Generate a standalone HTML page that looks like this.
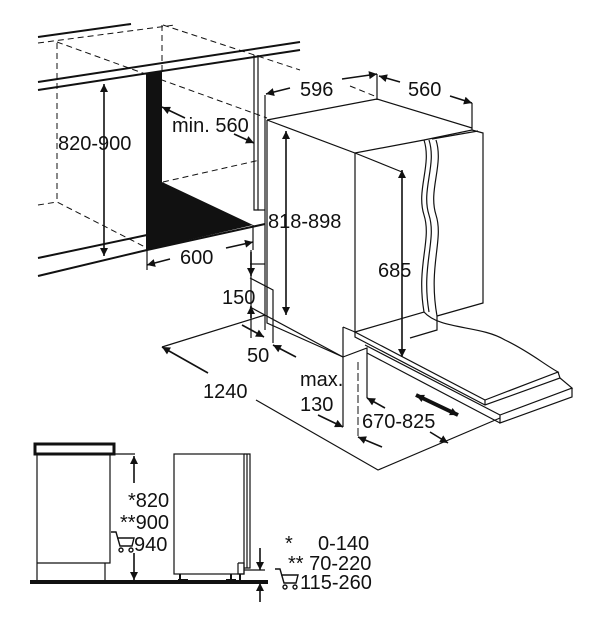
<!DOCTYPE html>
<html><head><meta charset="utf-8"><style>
html,body{margin:0;padding:0;background:#fff;}
svg{display:block;}
text{font-family:"Liberation Sans",Arial,sans-serif;font-size:20px;fill:#111;}
</style></head><body>
<svg width="605" height="632" viewBox="0 0 605 632" xmlns="http://www.w3.org/2000/svg">
<defs>
<marker id="a" viewBox="0 0 10 10" refX="10" refY="5" markerWidth="12" markerHeight="8" orient="auto-start-reverse" markerUnits="userSpaceOnUse"><path d="M0,0 L10,5 L0,10 z" fill="#111"/></marker>
</defs>
<g stroke="#111" fill="none" stroke-width="1.2">
<g stroke-dasharray="6,4" stroke-width="1">
<path d="M38,43 L175,25"/>
<path d="M57,43 L57,203"/>
<path d="M162,25 L162,70"/>
<path d="M57,42 L267,118"/>
<path d="M163,25 L300,70"/>
<path d="M38,205 L57,202 L147,248"/>
<path d="M163,182 L260,160"/>
</g>
<path d="M38,37 L131,24" stroke-width="2"/>
<path d="M38,82 L300,42" stroke-width="2"/>
<path d="M38,90 L300,50" stroke-width="2"/>
<path d="M38,258 L147,235" stroke-width="2"/>
<path d="M38,276 L147,250 L265,224" stroke-width="2"/>
<polygon points="146,73 162,71 162,182 253,225 146,250" fill="#111" stroke="none"/>
<path d="M254,55 L254,210 L258,210 L258,55"/>
<path d="M258,210 L265,210"/>
<path d="M104,84 L104,256" marker-start="url(#a)" marker-end="url(#a)" stroke-width="1.6"/>
<path d="M185,118 L162,107" marker-end="url(#a)" stroke-width="1.6"/>
<path d="M234,134 L254,143" marker-end="url(#a)" stroke-width="1.6"/>
<path d="M147,250 L147,270 M253,225 L253,250"/>
<path d="M170,259 L147,265" marker-end="url(#a)" stroke-width="1.6"/>
<path d="M226,248 L253,242" marker-end="url(#a)" stroke-width="1.6"/>
<path d="M265,95 L265,330"/>
<path d="M286,131 L286,315" marker-start="url(#a)" marker-end="url(#a)" stroke-width="1.6"/>
<path d="M250,264 L265,264"/>
<path d="M290,88 L266,94" marker-end="url(#a)" stroke-width="1.6"/>
<path d="M342,79 L377,74" marker-end="url(#a)" stroke-width="1.6"/>
<path d="M377,74 L377,100 M472,103 L472,130"/>
<path d="M400,82 L379,76" marker-end="url(#a)" stroke-width="1.6"/>
<path d="M450,96 L472,103" marker-end="url(#a)" stroke-width="1.6"/>
<path d="M350,86 L377,97" stroke-dasharray="6,4" stroke-width="1"/>
<path d="M267,120 L377,99 L472,128 M267,120 L355,153 L424,140 M267,120 L267,323 L343,357"/>
<path d="M355,153 L355,332"/>
<path d="M424,140 L472,130 L483,133 L483,303 L437,316"/>
<path d="M432,139 L478,131"/>
<path d="M424,140 C432,165 416,190 424,215 C432,240 416,265 424,312 M429,140 C437,165 421,190 429,215 C437,240 421,265 429,312 M436,140 C444,165 428,190 436,215 C444,240 428,265 437,316"/>
<path d="M437,316 L437,330 L410,338"/>
<path d="M355,332 L424,312 C440,330 480,325 505,340 C530,352 545,365 558,372 L485,400 L355,332 Z"/>
<path d="M355,332 L355,337 L485,405 L560,378 L558,372 M485,400 L485,405"/>
<path d="M365,345 L500,415 L572,388 L560,378 M500,415 L500,423 L572,397 L572,388 M500,423 L367,353"/>
<path d="M402,170 L402,357" marker-start="url(#a)" marker-end="url(#a)" stroke-width="1.6"/>
<path d="M355,153 L402,172"/>
<path d="M343,327 L343,427 M343,357 L367,348 L367,398 M343,327 L355,332"/>
<path d="M358,362 L358,437" stroke-dasharray="8,3" stroke-width="1"/>
<path d="M250,278 L273,290 L273,343 M251,250 L251,338 M250,307 L343,357"/>
<path d="M251,252 L251,276" marker-end="url(#a)" stroke-width="1.6"/>
<path d="M251,318 L251,306" marker-end="url(#a)" stroke-width="1.6"/>
<path d="M242,325 L264,337" marker-end="url(#a)" stroke-width="1.6"/>
<path d="M296,357 L273,345" marker-end="url(#a)" stroke-width="1.6"/>
<path d="M162,347 L265,315"/>
<path d="M208,373 L162,347" marker-end="url(#a)" stroke-width="1.6"/>
<path d="M256,400 L378,470 L500,418"/>
<path d="M318,415 L343,427" marker-end="url(#a)" stroke-width="1.6"/>
<path d="M385,408 L367,398" marker-end="url(#a)" stroke-width="1.6"/>
<path d="M382,447 L358,437" marker-end="url(#a)" stroke-width="1.6"/>
<path d="M430,432 L448,443" marker-end="url(#a)" stroke-width="1.6"/>
<path d="M416,395 L458,415" marker-start="url(#a)" marker-end="url(#a)" stroke-width="4"/>
<rect x="35" y="444" width="79" height="10" stroke-width="3"/>
<path d="M37,454 L37,581 M110,454 L110,563 L37,563 M105,563 L105,581"/>
<path d="M114,454 L135,454"/>
<path d="M134,456 L134,483" marker-start="url(#a)" stroke-width="1.6"/>
<path d="M134,553 L134,580" marker-end="url(#a)" stroke-width="1.6"/>
<path d="M30,582 L268,582" stroke-width="4"/>
<rect x="174" y="454" width="70" height="120"/>
<path d="M244,454 L250,454 L250,568 L244,568 M247,454 L247,568"/>
<path d="M238,563 L244,563 L244,574 L238,574 L238,563"/>
<path d="M180,574 L180,580 M178,580 L188,580 M231,574 L231,580 M226,580 L236,580 M240,574 L240,580" stroke-width="2"/>
<path d="M244,570 L265,570"/>
<path d="M260,548 L260,570" marker-end="url(#a)" stroke-width="1.6"/>
<path d="M260,602 L260,583" marker-end="url(#a)" stroke-width="1.6"/>
<g stroke-width="1.4">
<path d="M111,532 L116,532 L120,546 L132,546 L134,538 L117,538"/>
<circle cx="121" cy="550" r="2"/><circle cx="131" cy="550" r="2"/>
<path d="M275,569 L280,569 L284,583 L296,583 L298,575 L281,575"/>
<circle cx="285" cy="587" r="2"/><circle cx="295" cy="587" r="2"/>
</g>
</g>
<text x="58" y="150">820-900</text>
<text x="172" y="132">min. 560</text>
<text x="180" y="264">600</text>
<text x="268" y="228">818-898</text>
<text x="300" y="96">596</text>
<text x="408" y="96">560</text>
<text x="378" y="277">685</text>
<text x="222" y="304">150</text>
<text x="247" y="362">50</text>
<text x="203" y="398">1240</text>
<text x="300" y="386">max.</text>
<text x="300" y="411">130</text>
<text x="362" y="428">670-825</text>
<text x="128" y="507">*820</text>
<text x="120" y="529">**900</text>
<text x="134" y="551">940</text>
<text x="285" y="550">*</text>
<text x="318" y="550">0-140</text>
<text x="288" y="570">** 70-220</text>
<text x="300" y="589">115-260</text>
</svg>
</body></html>
